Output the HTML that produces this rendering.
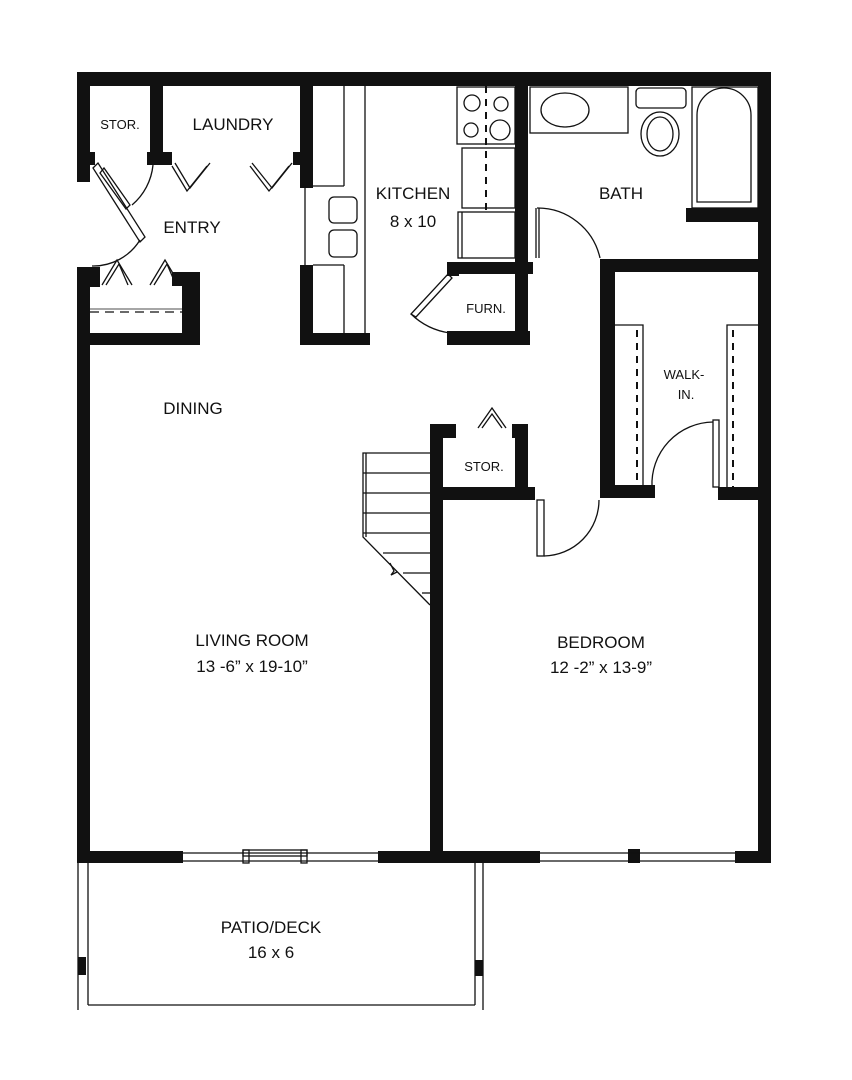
<!DOCTYPE html>
<html><head><meta charset="utf-8"><style>
html,body{margin:0;padding:0;background:#fff;}
svg{display:block}
text{font-family:"Liberation Sans",Arial,sans-serif;fill:#111;text-anchor:middle}
</style></head><body>
<svg width="852" height="1080" viewBox="0 0 852 1080" xmlns="http://www.w3.org/2000/svg">
<g fill="#111">
<!-- outer walls -->
<rect x="77" y="72" width="694" height="14"/>
<rect x="77" y="72" width="13" height="110"/>
<rect x="77" y="267" width="13" height="596"/>
<rect x="758" y="72" width="13" height="791"/>
<rect x="77" y="851" width="106" height="12"/>
<rect x="378" y="851" width="162" height="12"/>
<rect x="735" y="851" width="36" height="12"/>
<rect x="628" y="849" width="12" height="14"/>
<!-- stor/laundry -->
<rect x="150" y="86" width="13" height="78"/>
<rect x="147" y="152" width="25" height="13"/>
<rect x="77" y="152" width="18" height="13"/>
<rect x="300" y="86" width="13" height="102"/>
<rect x="293" y="152" width="8" height="13"/>
<!-- entry closet -->
<rect x="77" y="267" width="23" height="20"/>
<rect x="182" y="272" width="18" height="73"/>
<rect x="172" y="272" width="28" height="14"/>
<rect x="77" y="333" width="123" height="12"/>
<!-- kitchen left -->
<rect x="300" y="265" width="13" height="80"/>
<rect x="300" y="333" width="70" height="12"/>
<!-- kitchen right wall -->
<rect x="515" y="86" width="13" height="259"/>
<rect x="447" y="262" width="86" height="12"/>
<rect x="447" y="262" width="12" height="14"/>
<rect x="447" y="331" width="83" height="14"/>
<!-- bath -->
<rect x="686" y="208" width="72" height="14"/>
<rect x="600" y="259" width="158" height="13"/>
<rect x="600" y="259" width="15" height="239"/>
<rect x="600" y="485" width="55" height="13"/>
<rect x="718" y="487" width="40" height="13"/>
<!-- stor under stairs -->
<rect x="430" y="424" width="13" height="439"/>
<rect x="430" y="424" width="26" height="14"/>
<rect x="512" y="424" width="16" height="14"/>
<rect x="515" y="424" width="13" height="70"/>
<rect x="443" y="487" width="92" height="13"/>
<!-- patio posts -->
<rect x="78" y="957" width="8" height="18"/>
<rect x="475" y="960" width="8" height="16"/>
</g>
<g fill="none" stroke="#111" stroke-width="1.3">
<!-- windows -->
<line x1="183" y1="853" x2="378" y2="853"/><line x1="183" y1="861" x2="378" y2="861"/>
<rect x="243" y="850" width="64" height="6"/>
<rect x="243" y="850" width="6" height="13"/><rect x="301" y="850" width="6" height="13"/>
<line x1="540" y1="853" x2="735" y2="853"/><line x1="540" y1="861" x2="735" y2="861"/>
<!-- patio -->
<line x1="78" y1="863" x2="78" y2="1010"/>
<line x1="88" y1="863" x2="88" y2="1005"/>
<line x1="88" y1="1005" x2="475" y2="1005"/>
<line x1="475" y1="863" x2="475" y2="1005"/>
<line x1="483" y1="863" x2="483" y2="1010"/>
<!-- entry door -->
<polygon points="93,168 98,163 145,237 140,242"/>
<polygon points="100,173 104,168 130,205 126,209"/>
<path d="M153,165 A60,60 0 0 1 132,205"/>
<path d="M92,266 A55,55 0 0 0 140,240"/>
<!-- bifolds laundry -->
<polyline points="175,163 190,188 210,163"/><polyline points="172,166 187,191 207,166"/>
<polyline points="252,163 272,188 292,163"/><polyline points="250,166 269,191 289,166"/>
<!-- entry closet bifolds -->
<polyline points="102,285 117,260 132,285"/><polyline points="106,285 119,264 128,285"/>
<polyline points="150,285 165,260 180,285"/><polyline points="154,285 167,264 176,285"/>
<line x1="90" y1="312" x2="182" y2="312" stroke-dasharray="9,6"/>
<line x1="90" y1="309" x2="182" y2="309" stroke-width="0.8"/>
<!-- kitchen left counters -->
<line x1="313" y1="186" x2="344" y2="186"/>
<line x1="344" y1="86" x2="344" y2="186"/>
<line x1="365" y1="86" x2="365" y2="333"/>
<line x1="305" y1="186" x2="305" y2="265"/>
<line x1="313" y1="265" x2="344" y2="265"/>
<line x1="344" y1="265" x2="344" y2="333"/>
<rect x="329" y="197" width="28" height="26" rx="5"/>
<rect x="329" y="230" width="28" height="27" rx="5"/>
<!-- stove -->
<rect x="457" y="87" width="58" height="57"/>
<circle cx="472" cy="103" r="8"/><circle cx="501" cy="104" r="7"/>
<circle cx="471" cy="130" r="7"/><circle cx="500" cy="130" r="10"/>
<line x1="486" y1="86" x2="486" y2="212" stroke-dasharray="7,6" stroke-width="2"/>
<rect x="462" y="148" width="53" height="60"/>
<rect x="458" y="212" width="57" height="46"/>
<line x1="462" y1="212" x2="462" y2="258"/>
<!-- furnace door -->
<polygon points="448,274 452,278 416,317 411,314"/>
<path d="M411,314 A70,70 0 0 0 450,333"/>
<!-- bath fixtures -->
<rect x="530" y="87" width="98" height="46"/>
<ellipse cx="565" cy="110" rx="24" ry="17"/>
<rect x="636" y="88" width="50" height="20" rx="4"/>
<ellipse cx="660" cy="134" rx="19" ry="22"/><ellipse cx="660" cy="134" rx="13" ry="17"/>
<rect x="692" y="87" width="66" height="121"/>
<path d="M697,202 V115 A27,27 0 0 1 751,115 V202 Z"/>
<!-- bath door -->
<line x1="536" y1="208" x2="536" y2="258"/><line x1="539" y1="208" x2="539" y2="258"/>
<path d="M537,208 A64,64 0 0 1 600,258"/>
<!-- walkin shelves -->
<polyline points="615,325 643,325 643,485"/>
<line x1="637" y1="330" x2="637" y2="485" stroke-dasharray="7,6" stroke-width="2"/>
<polyline points="758,325 727,325 727,487"/>
<line x1="733" y1="330" x2="733" y2="487" stroke-dasharray="7,6" stroke-width="2"/>
<rect x="713" y="420" width="6" height="67"/>
<path d="M652,487 A62,62 0 0 1 713,422"/>
<!-- stor bifold -->
<polyline points="478,428 492,408 506,428"/><polyline points="482,428 492,414 502,428"/>
<!-- stairs -->
<polyline points="430,453 363,453 363,537 430,605"/>
<line x1="366" y1="453" x2="366" y2="537"/>
<line x1="363" y1="473" x2="430" y2="473"/>
<line x1="363" y1="493" x2="430" y2="493"/>
<line x1="363" y1="513" x2="430" y2="513"/>
<line x1="363" y1="533" x2="430" y2="533"/>
<line x1="383" y1="553" x2="430" y2="553"/>
<line x1="403" y1="573" x2="430" y2="573"/>
<line x1="422" y1="593" x2="430" y2="593"/>
<path d="M390,563 l4,8 l-3,4 l6,-3"/>
<!-- bedroom door -->
<rect x="537" y="500" width="7" height="56"/>
<path d="M544,556 A56,56 0 0 0 599,500"/>
</g>
<text x="120" y="129" font-size="13">STOR.</text>
<text x="233" y="130" font-size="17">LAUNDRY</text>
<text x="192" y="233" font-size="17">ENTRY</text>
<text x="413" y="199" font-size="17">KITCHEN</text>
<text x="413" y="227" font-size="17">8 x 10</text>
<text x="621" y="199" font-size="17">BATH</text>
<text x="486" y="313" font-size="13">FURN.</text>
<text x="684" y="379" font-size="13">WALK-</text>
<text x="686" y="399" font-size="13">IN.</text>
<text x="193" y="414" font-size="17">DINING</text>
<text x="484" y="471" font-size="13">STOR.</text>
<text x="252" y="646" font-size="17">LIVING ROOM</text>
<text x="252" y="672" font-size="17">13 -6” x 19-10”</text>
<text x="601" y="648" font-size="17">BEDROOM</text>
<text x="601" y="673" font-size="17">12 -2” x 13-9”</text>
<text x="271" y="933" font-size="17">PATIO/DECK</text>
<text x="271" y="958" font-size="17">16 x 6</text>
</svg>
</body></html>
